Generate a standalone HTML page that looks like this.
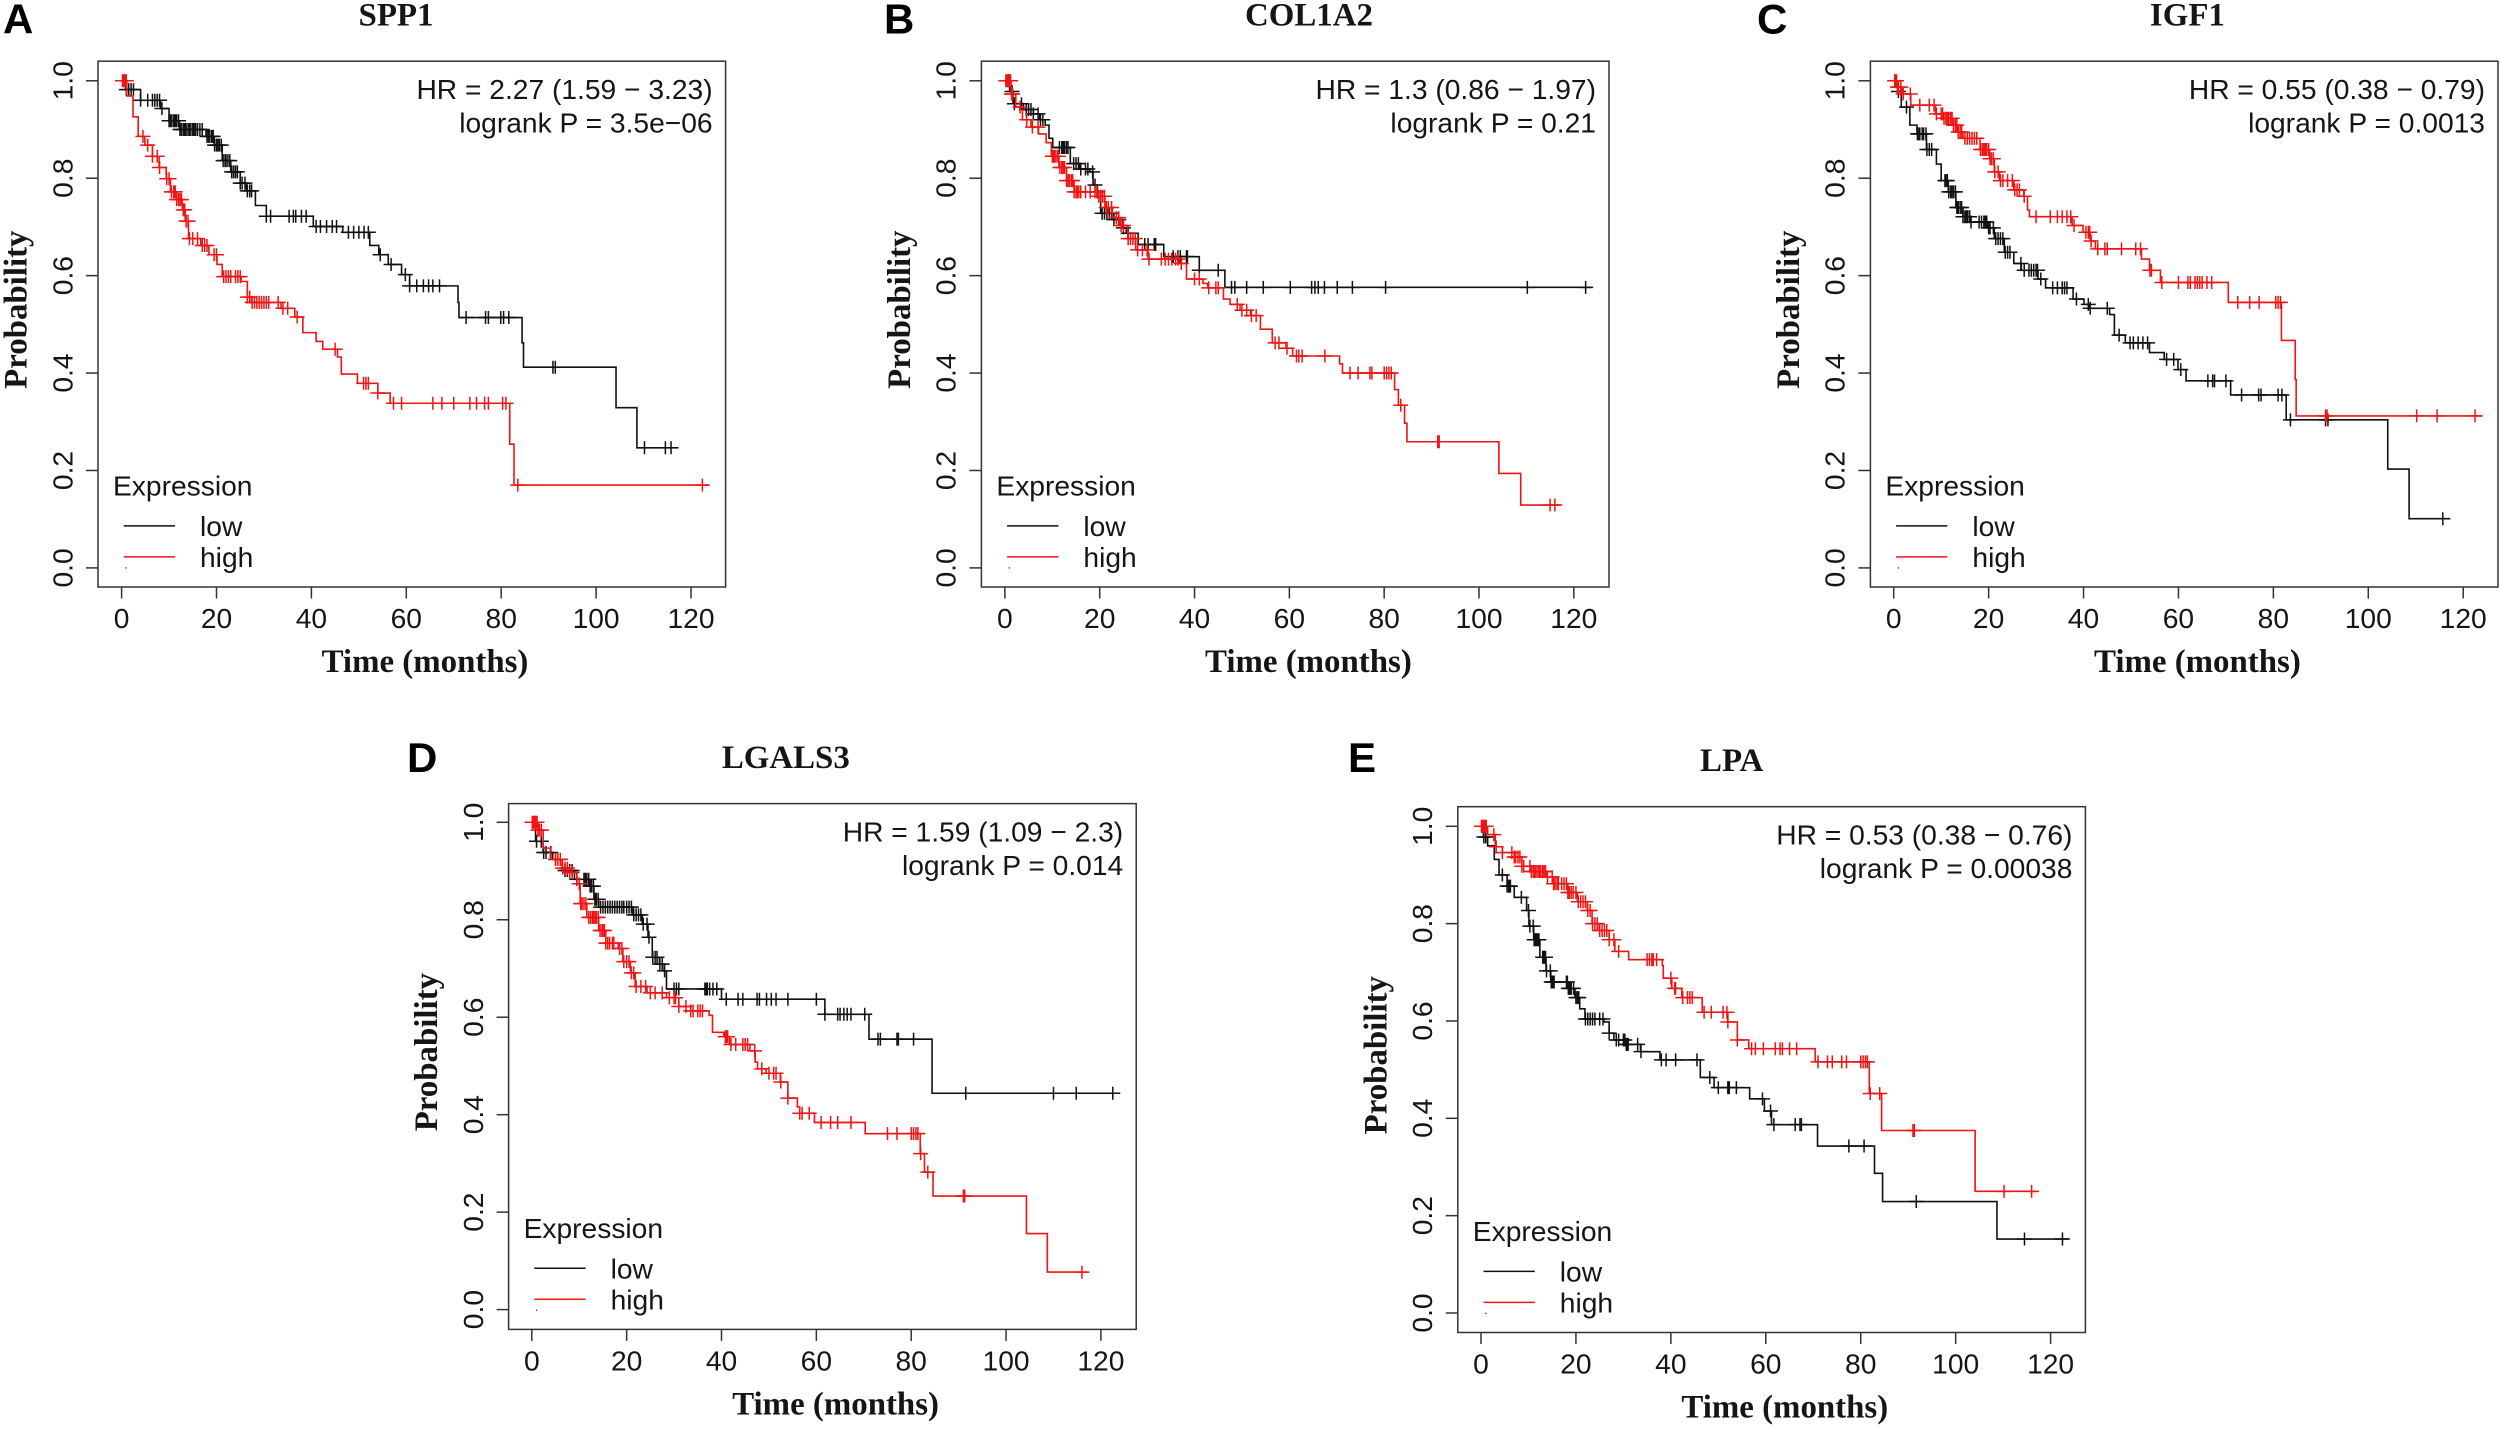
<!DOCTYPE html>
<html lang="en">
<head>
<meta charset="utf-8">
<title>Kaplan-Meier survival curves</title>
<style>
html,body{margin:0;padding:0;background:#fff;width:2500px;height:1429px;overflow:hidden}
svg{display:block}
text{fill:#151515}
.sans{font-family:"Liberation Sans",Arial,sans-serif;font-size:28.2px}
.title{font-family:"Liberation Serif","Times New Roman",serif;font-weight:bold;font-size:32.9px;text-anchor:middle}
.letter{font-family:"Liberation Sans",Arial,sans-serif;font-weight:bold;font-size:42px;fill:#000}
.end{text-anchor:end}
</style>
</head>
<body>
<svg id="figure" width="2500" height="1429" viewBox="0 0 2500 1429" xmlns="http://www.w3.org/2000/svg">
<rect width="2500" height="1429" fill="#fff"/>

<text class="letter" x="3" y="33.5">A</text>
<text class="letter" x="884" y="33.5">B</text>
<text class="letter" x="1757" y="33.5">C</text>
<text class="letter" x="407" y="772">D</text>
<text class="letter" x="1348" y="772">E</text>

<g id="panel-a" transform="translate(98,61.2)">
<text class="title" x="298" y="-35.7">SPP1</text>
<rect width="627.6" height="525.8" fill="none" stroke="#333" stroke-width="1.5"/>
<text class="title" x="327" y="610.8">Time (months)</text>
<text class="title" transform="translate(-71.5,248.5) rotate(-90)">Probability</text>
<text class="sans end" x="614.6" y="38">HR = 2.27 (1.59 − 3.23)</text>
<text class="sans end" x="614.6" y="71.5">logrank P = 3.5e−06</text>
<text class="sans" x="15" y="434.2">Expression</text>
<line x1="25.7" x2="77" y1="464.7" y2="464.7" stroke="#111" stroke-width="1.5"/>
<text class="sans" x="102" y="474.7">low</text>
<line x1="25.7" x2="77" y1="495.7" y2="495.7" stroke="#f01414" stroke-width="1.5"/>
<text class="sans" x="102" y="505.7">high</text>
<circle cx="28" cy="506.7" r="0.8" fill="#444"/>
</g>

<g id="panel-b" transform="translate(981.4,61.2)">
<text class="title" x="327.6" y="-35.7">COL1A2</text>
<rect width="627.6" height="525.8" fill="none" stroke="#333" stroke-width="1.5"/>
<text class="title" x="327" y="610.8">Time (months)</text>
<text class="title" transform="translate(-71.5,248.5) rotate(-90)">Probability</text>
<text class="sans end" x="614.6" y="38">HR = 1.3 (0.86 − 1.97)</text>
<text class="sans end" x="614.6" y="71.5">logrank P = 0.21</text>
<text class="sans" x="15" y="434.2">Expression</text>
<line x1="25.7" x2="77" y1="464.7" y2="464.7" stroke="#111" stroke-width="1.5"/>
<text class="sans" x="102" y="474.7">low</text>
<line x1="25.7" x2="77" y1="495.7" y2="495.7" stroke="#f01414" stroke-width="1.5"/>
<text class="sans" x="102" y="505.7">high</text>
<circle cx="28" cy="506.7" r="0.8" fill="#444"/>
</g>

<g id="panel-c" transform="translate(1870.4,61.2)">
<text class="title" x="317" y="-35.7">IGF1</text>
<rect width="627.6" height="525.8" fill="none" stroke="#333" stroke-width="1.5"/>
<text class="title" x="327" y="610.8">Time (months)</text>
<text class="title" transform="translate(-71.5,248.5) rotate(-90)">Probability</text>
<text class="sans end" x="614.6" y="38">HR = 0.55 (0.38 − 0.79)</text>
<text class="sans end" x="614.6" y="71.5">logrank P = 0.0013</text>
<text class="sans" x="15" y="434.2">Expression</text>
<line x1="25.7" x2="77" y1="464.7" y2="464.7" stroke="#111" stroke-width="1.5"/>
<text class="sans" x="102" y="474.7">low</text>
<line x1="25.7" x2="77" y1="495.7" y2="495.7" stroke="#f01414" stroke-width="1.5"/>
<text class="sans" x="102" y="505.7">high</text>
<circle cx="28" cy="506.7" r="0.8" fill="#444"/>
</g>

<g id="panel-d" transform="translate(508.6,803.6)">
<text class="title" x="277.2" y="-35.7">LGALS3</text>
<rect width="627.6" height="525.8" fill="none" stroke="#333" stroke-width="1.5"/>
<text class="title" x="327" y="610.8">Time (months)</text>
<text class="title" transform="translate(-71.5,248.5) rotate(-90)">Probability</text>
<text class="sans end" x="614.6" y="38">HR = 1.59 (1.09 − 2.3)</text>
<text class="sans end" x="614.6" y="71.5">logrank P = 0.014</text>
<text class="sans" x="15" y="434.2">Expression</text>
<line x1="25.7" x2="77" y1="464.7" y2="464.7" stroke="#111" stroke-width="1.5"/>
<text class="sans" x="102" y="474.7">low</text>
<line x1="25.7" x2="77" y1="495.7" y2="495.7" stroke="#f01414" stroke-width="1.5"/>
<text class="sans" x="102" y="505.7">high</text>
<circle cx="28" cy="506.7" r="0.8" fill="#444"/>
</g>

<g id="panel-e" transform="translate(1457.8,806.7)">
<text class="title" x="273.9" y="-35.7">LPA</text>
<rect width="627.6" height="525.8" fill="none" stroke="#333" stroke-width="1.5"/>
<text class="title" x="327" y="610.8">Time (months)</text>
<text class="title" transform="translate(-71.5,248.5) rotate(-90)">Probability</text>
<text class="sans end" x="614.6" y="38">HR = 0.53 (0.38 − 0.76)</text>
<text class="sans end" x="614.6" y="71.5">logrank P = 0.00038</text>
<text class="sans" x="15" y="434.2">Expression</text>
<line x1="25.7" x2="77" y1="464.7" y2="464.7" stroke="#111" stroke-width="1.5"/>
<text class="sans" x="102" y="474.7">low</text>
<line x1="25.7" x2="77" y1="495.7" y2="495.7" stroke="#f01414" stroke-width="1.5"/>
<text class="sans" x="102" y="505.7">high</text>
<circle cx="28" cy="506.7" r="0.8" fill="#444"/>
</g>
</svg>

<script>
var xTickLabels = ["0","20","40","60","80","100","120"];
var yTickLabels = ["0.0","0.2","0.4","0.6","0.8","1.0"];

/* Panel A: SPP1 */
var aLowTime = [0,0.9,4,8.2,10,12.2,17.8,19.5,21.2,23,25,26.3,28.2,30.5,38.7,40.4,46.6,52.3,54.2,56.2,59,60.7,70.3,70.9,71.1,84.2,84.4,84.7,104.2,108.6,117];
var aLowSurv = [1,0.982,0.96,0.943,0.918,0.9,0.886,0.868,0.836,0.813,0.79,0.774,0.744,0.722,0.722,0.701,0.689,0.662,0.643,0.623,0.602,0.579,0.579,0.545,0.514,0.514,0.462,0.412,0.329,0.2466,0.2466];
var aLowCensor = [1,1.5,2,2.5,4,5.5,6.5,7,7.5,8,8.5,10,10.3,10.6,11,11.3,11.6,12,12.3,12.6,13,13.3,13.6,14,14.3,14.6,15,15.3,15.6,16,16.5,17,18,18.3,18.6,19,19.3,19.6,20,20.3,20.6,21,21.4,21.8,22,22.4,22.8,23.2,23.6,24,24.4,25,25.4,26,26.5,27,27.4,30.5,31.4,35.3,36.2,36.7,37.9,38.9,41,41.9,43.2,44.4,45.3,47.8,48.9,50,51.1,52,54.5,56.8,59.8,60.7,62.2,63.6,64.7,65.6,67,72.6,76.7,77.3,79.9,80.5,81.6,90.9,91.4,110.2,114.6,115.8];
var aHighTime = [0,1.1,2.4,3.5,4.9,6.5,7.9,9.4,10.3,11.6,12.8,13.4,14.1,16.7,18.4,20.1,21.2,25.2,26.5,27.4,33.6,36.5,38.2,41,42.4,45.5,46.3,49.7,54,56.6,81.6,81.8,82.7,123.6];
var aHighSurv = [1,0.969,0.926,0.886,0.868,0.845,0.822,0.799,0.772,0.756,0.735,0.712,0.676,0.662,0.643,0.623,0.598,0.588,0.556,0.545,0.533,0.515,0.483,0.465,0.449,0.433,0.398,0.379,0.359,0.338,0.338,0.254,0.17,0.17];
var aHighCensor = [0.2,0.4,0.6,0.8,1,4.5,5.5,6.5,7.5,8,9.5,10,10.5,11,11.3,11.6,12,12.3,12.6,13,13.3,13.6,14,14.3,15,16,17,17.5,18,19.5,20,21.5,22,22.5,23,24,24.5,25,26.5,27,27.5,28,28.5,29,29.5,30,30.5,31,33,34,35,37,45,51,51.5,52,54,57.3,59,65.6,67.5,70,73.4,74.8,76.5,77.3,80.3,81,83.5,122.4];

/* Panel B: COL1A2 */
var bLowTime = [0,1,1.7,3.9,6,7.3,8.5,9.3,10.1,13.5,13.8,15.7,17.9,18.6,19.5,20.2,22.7,24.9,25.6,28.1,33.5,41,46.4,123.9];
var bLowSurv = [1,0.978,0.953,0.941,0.932,0.92,0.909,0.882,0.863,0.863,0.83,0.819,0.813,0.786,0.772,0.728,0.715,0.698,0.687,0.664,0.639,0.611,0.576,0.576];
var bLowCensor = [0.8,1.5,2,3.5,4.5,5,5.5,6,7,7.5,8,11.5,12,12.3,12.6,13,13.3,14.5,15,15.5,16,17,17.5,18.5,19,19.5,20.5,21,21.5,22,22.5,23,24,25,26,29.5,30.2,31.5,31.8,35.5,36.5,37,38.3,38.5,41,45,47.8,48.5,51,54.5,60.2,64.7,65.4,66.1,67.4,70.1,73.3,80.3,110.2,122.5];
var bHighTime = [0,1.3,2.3,3.7,5.5,7.1,8.7,9.8,11.4,13,14.6,19.5,21.1,22.7,24.3,25.9,27.6,30.2,36.7,38.3,41.8,42.8,46.1,47.5,49.6,51.8,53.9,56.4,59.3,60.7,70.6,71.2,81.9,82.2,83,84.3,84.8,104.2,108.8,117.2];
var bHighSurv = [1,0.973,0.946,0.92,0.905,0.891,0.873,0.845,0.822,0.795,0.772,0.763,0.74,0.719,0.703,0.676,0.653,0.634,0.625,0.593,0.584,0.575,0.552,0.541,0.529,0.518,0.49,0.462,0.451,0.435,0.419,0.4,0.4,0.366,0.334,0.297,0.259,0.194,0.129,0.129];
var bHighCensor = [0.2,0.4,0.6,0.8,1,1.2,1.4,1.6,3.2,4.6,5.8,7,10,10.3,10.6,11,11.3,11.6,12,12.3,12.6,13,13.3,13.6,14,14.3,14.6,15,15.3,15.6,16,17,18,19,19.4,19.8,20.2,20.6,21,21.4,21.8,22.5,23.5,24,24.5,25,26,26.5,27,27.5,28,29,30,30.4,33,33.8,34.5,35.2,36,36.5,37.2,40,41,43,44.5,45,49,50,51,52,53,57,57.8,59.5,61.5,62,62.7,67.5,72.8,74.5,77,77.4,80,80.5,81,81.5,83.5,91.3,91.6,115,116];

/* Panel C: IGF1 */
var cLowTime = [0,0.8,1.6,3.4,4.9,6.9,9,10,11.5,13.1,14.6,16.1,19.7,21.2,23.3,25.3,26.9,30.4,32,37.8,40.1,41.2,45.5,46.5,48.8,53.9,57,59.9,61.6,71,82.7,104.1,108.6,117.2];
var cLowSurv = [1,0.978,0.946,0.909,0.891,0.859,0.829,0.795,0.772,0.74,0.721,0.71,0.698,0.676,0.648,0.625,0.611,0.593,0.575,0.552,0.541,0.533,0.52,0.478,0.462,0.442,0.428,0.407,0.384,0.355,0.304,0.203,0.101,0.101];
var cLowCensor = [1,2.7,5,5.3,5.5,6,6.3,6.8,7,7.5,8,10.8,11,11.3,11.6,12,12.3,12.6,13,13.3,13.6,14,14.3,14.6,15,15.3,15.6,16,16.3,18,18.5,19,19.3,19.6,20,20.3,21,21.5,22,22.5,23,23.5,24,24.5,26.8,27.5,28.5,29,29.5,30,30.3,31,33.5,34.5,35.5,36,36.5,38.5,41,41.4,45,47.5,49.8,50.5,51.5,52.5,53.5,57.5,59,60.5,66.2,67.2,67.6,70,73.3,76.9,77.4,81,81.8,83.6,91,91.5,115.7];
var cHighTime = [0,0.8,1.8,3.6,8.8,10.5,12.6,13.6,14.6,18.2,20.2,21.2,22.3,25.3,27.4,28.2,28.6,37,37.6,39.9,41.4,42.5,51.9,52.2,53.9,56.2,70.5,81.7,84.4,84.6,84.8,123.9];
var cHighSurv = [1,0.987,0.973,0.95,0.932,0.923,0.909,0.895,0.882,0.859,0.84,0.813,0.795,0.776,0.763,0.735,0.721,0.721,0.703,0.689,0.671,0.655,0.655,0.634,0.611,0.586,0.545,0.467,0.467,0.387,0.312,0.312];
var cHighCensor = [0.2,0.4,0.6,0.8,1,1.5,2,3.5,5.5,7.5,8.5,9,10,10.3,10.6,11,11.3,11.6,12,12.3,12.6,13,13.3,13.6,14,14.3,15,15.5,16,16.5,17,17.5,18.3,18.7,19,19.3,19.6,20,20.3,20.6,21,21.3,22,22.5,23,24,25,25.5,26,26.5,27.5,30,33,34.5,35.5,36.5,37.3,38,40.5,41,41.3,41.6,43,44.5,45,48,51,52,54,54.3,56.5,60,62,62.5,63.5,64,64.5,65,66,67,72.5,75,77,80.5,81,81.5,91,91.3,110.2,114.5,122.5];

/* Panel D: LGALS3 */
var dLowTime = [0,0.8,2.4,4.4,6.4,9,12.1,13.1,14.1,21.3,23.3,24.5,25.4,26.9,27.9,28.4,39.9,40,61.6,61.8,71.1,84.4,123.7];
var dLowSurv = [1,0.961,0.938,0.924,0.901,0.883,0.869,0.842,0.826,0.81,0.791,0.764,0.723,0.709,0.695,0.658,0.658,0.637,0.637,0.606,0.555,0.444,0.444];
var dLowCensor = [1,2,2.5,3,4,5,6,7,7.5,8,8.5,9.5,11,11.3,11.6,12,12.3,12.6,13,13.3,13.6,14,14.5,15,15.5,16,16.5,17,17.5,18,18.5,19,19.4,20,20.5,21,21.5,22,22.5,23,23.5,24.3,24.7,25.5,26,26.4,27,27.5,28,30,30.5,31,36.5,36.8,37,37.5,38.2,39,41,43.5,44.5,47.5,48,49.5,50.5,51.5,54,60,61.8,64.5,65,65.8,66.5,67.3,70.2,73,73.5,77,77.3,80.5,91.5,110,114.8,122.5];
var dHighTime = [0,1.3,2.4,3.9,6.4,8,9.5,10.2,11.6,14.1,15.6,18.2,19.2,20.8,21.8,24.3,28.4,31,33.5,37.4,38.1,40.5,41.7,46,47.1,47.6,49.4,52.4,54,56,56.5,59.6,70.3,81.9,82.8,84.6,104.3,108.7,117.1];
var dHighSurv = [1,0.984,0.947,0.924,0.906,0.897,0.874,0.833,0.805,0.778,0.752,0.741,0.714,0.691,0.663,0.65,0.64,0.622,0.613,0.604,0.569,0.56,0.544,0.531,0.508,0.494,0.485,0.467,0.434,0.416,0.403,0.384,0.361,0.32,0.282,0.233,0.156,0.077,0.077];
var dHighCensor = [0.1,0.3,0.5,0.7,0.9,1.1,1.3,1.6,2,5,5.5,6,6.5,7,7.5,8,8.5,10,10.3,10.6,11,11.4,12,12.4,12.8,13,13.3,13.6,14,14.4,14.8,15,15.3,15.6,16,16.4,17,17.3,18.5,19,19.4,20,20.5,21,21.5,22,23,24,25,26,27.5,29,30,30.3,31,32.5,33.5,34,35,35.5,36,40.8,41,41.3,42,43,44.5,45,45.5,47,48.5,50,51,51.5,52.5,54,56.5,57,58.5,61,63,64.5,67.3,75,77,80,80.5,81,81.4,82,83.5,91,91.3,116];

/* Panel E: LPA */
var eLowTime = [0,0.5,1.4,2.8,3.8,5.5,7,9.6,10.1,11.1,12.4,13.7,14.7,18.3,19.8,20.8,21.9,25.9,27,28,30.5,33.6,37.7,46,46.2,49.1,56.6,59.7,61.2,70.9,82.9,84.6,108.7,123.8];
var eLowSurv = [1,0.978,0.96,0.932,0.9,0.877,0.854,0.827,0.795,0.767,0.731,0.703,0.68,0.667,0.648,0.625,0.604,0.598,0.575,0.561,0.552,0.537,0.52,0.52,0.484,0.463,0.44,0.415,0.387,0.343,0.287,0.229,0.152,0.152];
var eLowCensor = [0.3,0.6,1,4.5,5.5,5.8,6,6.2,8.5,10,10.3,11,11.2,11.4,11.6,11.8,12,12.2,13,13.2,13.4,13.6,13.8,14.6,14.8,15,15.2,15.4,18,18.2,18.4,18.7,19,19.5,20,20.3,20.6,22,22.5,23,23.5,24,25,25.7,27,28.5,29,30,30.3,30.6,30.8,31,33,33.7,38,39,41,45.5,48.2,50,52,52.3,53.8,59.3,61,61.7,66.2,67.2,67.5,77.5,80.7,91.7,114.5,122.5];
var eHighTime = [0,1.4,3,4.5,7,8.6,10.6,13.7,15.2,18.3,20.3,22.4,23.4,24.9,27,28.2,31.1,38.2,38.4,40.2,42.3,46.6,52,54,56.4,70.4,81.8,84.4,104.1,117];
var eHighSurv = [1,0.983,0.958,0.946,0.937,0.918,0.907,0.896,0.882,0.864,0.845,0.827,0.8,0.786,0.767,0.743,0.726,0.714,0.688,0.667,0.648,0.618,0.598,0.561,0.543,0.516,0.451,0.375,0.25,0.25];
var eHighCensor = [0.1,0.3,0.5,0.7,0.9,1.1,2.7,3.2,4.5,6.5,7,7.3,7.8,8.2,8.6,9,10.3,10.6,11,11.3,11.6,12,12.3,12.6,13,13.3,13.6,14,15,15.3,15.6,16,16.3,17,17.5,18,18.3,18.6,19,19.4,20,20.5,21,21.5,22,22.5,23,23.5,24,24.5,25,25.5,26,26.5,27,28,29,35,35.5,36,36.3,37,40,40.8,41,42.5,43.5,44,44.5,47,48.5,51,51.8,52,54,57,57.8,59.5,62,63,63.5,65,66.5,71,73,74,76,77,80,80.5,81,81.4,82,84,91,91.3,110.2,116];

var NS = 'http://www.w3.org/2000/svg';
var LOW_COLOR = '#111111';
var HIGH_COLOR = '#f01414';
var BOX_H = 525.8;

function makeX(frame) {
  return function (t) { return frame.x0 + (frame.x120 - frame.x0) * t / 120; };
}
function makeY(frame) {
  return function (s) { return frame.y0 + (frame.y1 - frame.y0) * s; };
}
function survivalAt(times, surv, t) {
  var v = surv[0];
  for (var i = 0; i < times.length; i++) {
    if (times[i] <= t) { v = surv[i]; } else { break; }
  }
  return v;
}
function drawAxes(group, x, y) {
  var i, el;
  for (i = 0; i < xTickLabels.length; i++) {
    var tx = x(Number(xTickLabels[i]));
    el = document.createElementNS(NS, 'line');
    
    
    el.setAttribute('x1', tx);
    el.setAttribute('x2', tx);
    el.setAttribute('y1', BOX_H);
    el.setAttribute('y2', BOX_H + 11.5);
    el.setAttribute('stroke', '#333');
    el.setAttribute('stroke-width', '1.5');
    group.appendChild(el);
    el = document.createElementNS(NS, 'text');
    
    
    el.setAttribute('class', 'sans');
    el.setAttribute('x', tx);
    el.setAttribute('y', BOX_H + 41);
    el.setAttribute('text-anchor', 'middle');
    el.textContent = xTickLabels[i];
    group.appendChild(el);
  }
  for (i = 0; i < yTickLabels.length; i++) {
    var ty = y(Number(yTickLabels[i]));
    el = document.createElementNS(NS, 'line');
    
    
    el.setAttribute('x1', -12);
    el.setAttribute('x2', 0);
    el.setAttribute('y1', ty);
    el.setAttribute('y2', ty);
    el.setAttribute('stroke', '#333');
    el.setAttribute('stroke-width', '1.5');
    group.appendChild(el);
    el = document.createElementNS(NS, 'text');
    
    
    el.setAttribute('class', 'sans');
    el.setAttribute('text-anchor', 'middle');
    el.setAttribute('transform', 'translate(-25.7,' + ty + ') rotate(-90)');
    el.textContent = yTickLabels[i];
    group.appendChild(el);
  }
}
function drawSeries(group, x, y, times, surv, censor, color, label) {
  var d = 'M' + x(times[0]).toFixed(2) + ' ' + y(surv[0]).toFixed(2);
  for (var i = 1; i < times.length; i++) {
    d += 'H' + x(times[i]).toFixed(2) + 'V' + y(surv[i]).toFixed(2);
  }
  var line = document.createElementNS(NS, 'path');
  
  
  line.setAttribute('d', d);
  line.setAttribute('fill', 'none');
  line.setAttribute('stroke', color);
  line.setAttribute('stroke-width', '1.6');
  group.appendChild(line);
  for (var j = 0; j < censor.length; j++) {
    var cx = x(censor[j]);
    var cy = y(survivalAt(times, surv, censor[j]));
    var mark = document.createElementNS(NS, 'path');
    
    
    mark.setAttribute('d', 'M' + (cx - 7.5).toFixed(2) + ' ' + cy.toFixed(2) + 'h15M' + cx.toFixed(2) + ' ' + (cy - 6.5).toFixed(2) + 'v13');
    mark.setAttribute('fill', 'none');
    mark.setAttribute('stroke', color);
    mark.setAttribute('stroke-width', '1.5');
    group.appendChild(mark);
  }
}
function drawPanel(id, frame, lowT, lowS, lowC, highT, highS, highC) {
  var group = document.getElementById(id);
  var x = makeX(frame);
  var y = makeY(frame);
  drawAxes(group, x, y);
  drawSeries(group, x, y, lowT, lowS, lowC, LOW_COLOR, 'low');
  drawSeries(group, x, y, highT, highS, highC, HIGH_COLOR, 'high');
}
drawPanel('panel-a', {x0: 23.6, x120: 593, y1: 19.6, y0: 506.7}, aLowTime, aLowSurv, aLowCensor, aHighTime, aHighSurv, aHighCensor);
drawPanel('panel-b', {x0: 23.5, x120: 592.4, y1: 19.6, y0: 506.7}, bLowTime, bLowSurv, bLowCensor, bHighTime, bHighSurv, bHighCensor);
drawPanel('panel-c', {x0: 23.3, x120: 592.8, y1: 19.6, y0: 506.7}, cLowTime, cLowSurv, cLowCensor, cHighTime, cHighSurv, cHighCensor);
drawPanel('panel-d', {x0: 23.2, x120: 592.3, y1: 18.7, y0: 506}, dLowTime, dLowSurv, dLowCensor, dHighTime, dHighSurv, dHighCensor);
drawPanel('panel-e', {x0: 23.2, x120: 592.8, y1: 19.6, y0: 506.3}, eLowTime, eLowSurv, eLowCensor, eHighTime, eHighSurv, eHighCensor);
</script>
</body>
</html>
